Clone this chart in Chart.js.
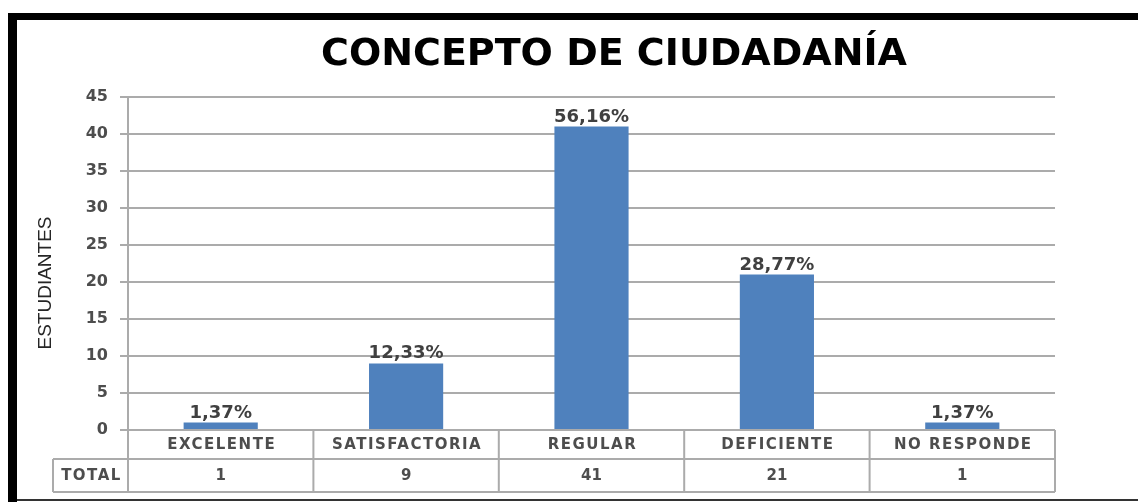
<!DOCTYPE html>
<html>
<head>
<meta charset="utf-8">
<script src="https://cdn.jsdelivr.net/npm/chart.js@4/dist/chart.umd.min.js"></script>
<style>
  html, body { margin: 0; padding: 0; background: #fff; }
  #grafico { display: block; }
</style>
</head>
<body>
<canvas id="grafico" width="1138" height="502"></canvas>
<script>
const categorias = ['EXCELENTE', 'SATISFACTORIA', 'REGULAR', 'DEFICIENTE', 'NO RESPONDE'];
const estudiantes = [1, 9, 41, 21, 1];
const porcentajes = ['1,37%', '12,33%', '56,16%', '28,77%', '1,37%'];
const ejeYMax = 45;
const ejeYPaso = 5;
const tituloTexto = 'CONCEPTO DE CIUDADANÍA';
const tituloEje = 'ESTUDIANTES';
const filaTotal = 'TOTAL';

const colorBarra = '#4f81bd';
const colorLinea = '#ababab';
const colorTexto = '#4d4d4d';

// marco negro, titulo y titulo del eje
const marcoPlugin = {
    id: 'marco',
    beforeDraw(chart) {
        const ctx = chart.ctx;
        ctx.save();
        ctx.fillStyle = '#fff';
        ctx.fillRect(0, 0, chart.width, chart.height);
        ctx.fillStyle = '#000';
        ctx.fillRect(8, 13, chart.width - 8, 7);
        ctx.fillRect(8, 13, 9, chart.height - 13);
        ctx.fillStyle = '#333';
        ctx.fillRect(17, 499, chart.width - 17, 2);

        ctx.fillStyle = '#000';
        ctx.font = 'bold 38px "DejaVu Sans"';
        ctx.textAlign = 'center';
        ctx.textBaseline = 'alphabetic';
        ctx.fillText(tituloTexto, 614, 65);

        ctx.translate(46, 283);
        ctx.rotate(-Math.PI / 2);
        ctx.fillStyle = '#262626';
        ctx.font = '19px "Liberation Sans"';
        ctx.textBaseline = 'middle';
        ctx.fillText(tituloEje, 0, 0);
        ctx.restore();
    }
};

// porcentajes encima de las barras
const etiquetasPlugin = {
    id: 'etiquetas',
    afterDatasetsDraw(chart) {
        const ctx = chart.ctx;
        const barras = chart.getDatasetMeta(0).data;
        ctx.save();
        ctx.fillStyle = '#404040';
        ctx.font = 'bold 18px "DejaVu Sans"';
        ctx.textAlign = 'center';
        ctx.textBaseline = 'alphabetic';
        barras.forEach((b, i) => {
            ctx.fillText(porcentajes[i], b.x, b.y - 5);
        });
        ctx.restore();
    }
};

// tabla de datos bajo el eje x
const tablaPlugin = {
    id: 'tabla',
    afterDraw(chart) {
        const ctx = chart.ctx;
        const x = chart.scales.x;
        const area = chart.chartArea;
        const ancho = (area.right - area.left) / categorias.length;
        const y0 = area.bottom;
        const y1 = y0 + 29;
        const y2 = y1 + 33;
        const xTotal = 53;

        ctx.save();
        ctx.strokeStyle = colorLinea;
        ctx.lineWidth = 2;
        ctx.beginPath();
        ctx.moveTo(xTotal, y1); ctx.lineTo(area.right, y1);
        ctx.moveTo(xTotal, y2); ctx.lineTo(area.right, y2);
        ctx.moveTo(xTotal, y1); ctx.lineTo(xTotal, y2);
        for (let i = 0; i <= categorias.length; i++) {
            const xl = area.left + i * ancho;
            ctx.moveTo(xl, y0); ctx.lineTo(xl, y2);
        }
        ctx.stroke();

        ctx.fillStyle = colorTexto;
        ctx.textAlign = 'center';
        ctx.textBaseline = 'middle';
        ctx.font = 'bold 15px "DejaVu Sans"';
        ctx.letterSpacing = '1.5px';
        categorias.forEach((c, i) => {
            ctx.fillText(c, x.getPixelForValue(i) + 1, (y0 + y1) / 2 + 1);
        });
        ctx.fillText(filaTotal, (xTotal + area.left) / 2 + 1, (y1 + y2) / 2 + 1);
        ctx.letterSpacing = '0px';
        ctx.font = 'bold 15px "DejaVu Sans"';
        estudiantes.forEach((v, i) => {
            ctx.fillText(String(v), x.getPixelForValue(i), (y1 + y2) / 2 + 1);
        });
        ctx.restore();
    }
};

new Chart(document.getElementById('grafico'), {
    type: 'bar',
    data: {
        labels: categorias,
        datasets: [{
            label: tituloEje,
            data: estudiantes,
            backgroundColor: colorBarra,
            borderWidth: 0,
            barPercentage: 0.4,
            categoryPercentage: 1
        }]
    },
    options: {
        responsive: false,
        animation: false,
        layout: { padding: { left: 20, top: 97, right: 83, bottom: 72 } },
        plugins: {
            legend: { display: false },
            title: { display: false },
            tooltip: { enabled: false }
        },
        scales: {
            x: { display: false },
            y: {
                min: 0,
                max: ejeYMax,
                afterFit: s => { s.width = 108; },
                ticks: {
                    stepSize: ejeYPaso,
                    padding: 12,
                    color: colorTexto,
                    font: { family: 'DejaVu Sans', weight: 'bold', size: 16 }
                },
                grid: { color: colorLinea, lineWidth: 2, tickLength: 8 },
                border: { color: colorLinea, width: 2 }
            }
        }
    },
    plugins: [marcoPlugin, etiquetasPlugin, tablaPlugin]
});
</script>
</body>
</html>
